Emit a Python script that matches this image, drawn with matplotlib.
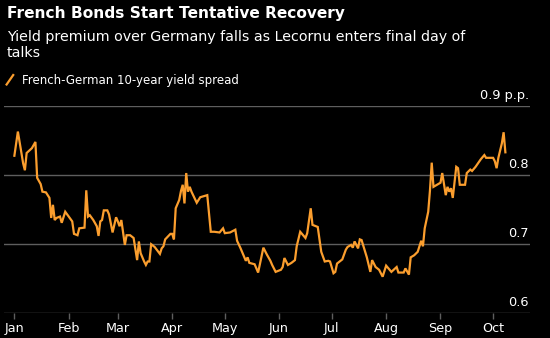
import matplotlib
matplotlib.use("Agg")
import matplotlib.pyplot as plt
import matplotlib.transforms as mtransforms
import pandas as pd

title = "French Bonds Start Tentative Recovery"
subtitle = "Yield premium over Germany falls as Lecornu enters final day of\ntalks"
series_name = "French-German 10-year yield spread"

dates = [
    "2025-01-01", "2025-01-03", "2025-01-06", "2025-01-07", "2025-01-08", "2025-01-11",
    "2025-01-13", "2025-01-14", "2025-01-16", "2025-01-17", "2025-01-19", "2025-01-21",
    "2025-01-22", "2025-01-23", "2025-01-24", "2025-01-25", "2025-01-27", "2025-01-28",
    "2025-01-30", "2025-02-01", "2025-02-03", "2025-02-04", "2025-02-06", "2025-02-07",
    "2025-02-10", "2025-02-11", "2025-02-12", "2025-02-13", "2025-02-15", "2025-02-17",
    "2025-02-18", "2025-02-19", "2025-02-20", "2025-02-21", "2025-02-23", "2025-02-24",
    "2025-02-26", "2025-02-28", "2025-03-01", "2025-03-02", "2025-03-03", "2025-03-05",
    "2025-03-06", "2025-03-08", "2025-03-10", "2025-03-12", "2025-03-13", "2025-03-14",
    "2025-03-16", "2025-03-17", "2025-03-18", "2025-03-19", "2025-03-20", "2025-03-22",
    "2025-03-25", "2025-03-26", "2025-03-27", "2025-03-28", "2025-03-31", "2025-04-01",
    "2025-04-02", "2025-04-03", "2025-04-05", "2025-04-06", "2025-04-07", "2025-04-08",
    "2025-04-09", "2025-04-10", "2025-04-11", "2025-04-12", "2025-04-15", "2025-04-17",
    "2025-04-21", "2025-04-23", "2025-04-25", "2025-04-28", "2025-04-30", "2025-05-01",
    "2025-05-04", "2025-05-07", "2025-05-08", "2025-05-10", "2025-05-13", "2025-05-14",
    "2025-05-15", "2025-05-18", "2025-05-20", "2025-05-23", "2025-05-25", "2025-05-27",
    "2025-05-28", "2025-05-30", "2025-06-01", "2025-06-02", "2025-06-03", "2025-06-04",
    "2025-06-06", "2025-06-08", "2025-06-10", "2025-06-11", "2025-06-13", "2025-06-16",
    "2025-06-17", "2025-06-19", "2025-06-20", "2025-06-23", "2025-06-25", "2025-06-27",
    "2025-06-29", "2025-06-30", "2025-07-02", "2025-07-03", "2025-07-04", "2025-07-07",
    "2025-07-09", "2025-07-10", "2025-07-12", "2025-07-13", "2025-07-14", "2025-07-16",
    "2025-07-17", "2025-07-18", "2025-07-20", "2025-07-21", "2025-07-23", "2025-07-24",
    "2025-07-26", "2025-07-28", "2025-07-30", "2025-08-01", "2025-08-04", "2025-08-07",
    "2025-08-08", "2025-08-11", "2025-08-12", "2025-08-14", "2025-08-15", "2025-08-17",
    "2025-08-19", "2025-08-21", "2025-08-22", "2025-08-23", "2025-08-25", "2025-08-26",
    "2025-08-27", "2025-08-28", "2025-08-30", "2025-09-01", "2025-09-02", "2025-09-04",
    "2025-09-05", "2025-09-06", "2025-09-07", "2025-09-08", "2025-09-10", "2025-09-11",
    "2025-09-12", "2025-09-15", "2025-09-16", "2025-09-18", "2025-09-19", "2025-09-21",
    "2025-09-24", "2025-09-26", "2025-09-27", "2025-09-29", "2025-09-30", "2025-10-01",
    "2025-10-02", "2025-10-03", "2025-10-04", "2025-10-06", "2025-10-07", "2025-10-08",
]

spread = [
    0.828, 0.863, 0.817, 0.807, 0.832, 0.839,
    0.848, 0.796, 0.787, 0.776, 0.775, 0.767,
    0.738, 0.757, 0.735, 0.738, 0.740, 0.731,
    0.747, 0.740, 0.733, 0.715, 0.713, 0.723,
    0.724, 0.778, 0.740, 0.742, 0.735, 0.726,
    0.712, 0.733, 0.735, 0.749, 0.749, 0.743,
    0.717, 0.739, 0.733, 0.726, 0.735, 0.699,
    0.713, 0.713, 0.709, 0.677, 0.704, 0.687,
    0.675, 0.670, 0.675, 0.675, 0.700, 0.696,
    0.686, 0.694, 0.697, 0.707, 0.715, 0.715,
    0.707, 0.752, 0.764, 0.777, 0.786, 0.759,
    0.803, 0.776, 0.783, 0.776, 0.760, 0.768,
    0.771, 0.718, 0.718, 0.717, 0.723, 0.716,
    0.717, 0.721, 0.705, 0.694, 0.676, 0.681,
    0.673, 0.671, 0.659, 0.695, 0.685, 0.676,
    0.670, 0.660, 0.662, 0.663, 0.667, 0.680,
    0.670, 0.673, 0.677, 0.697, 0.718, 0.709,
    0.716, 0.752, 0.728, 0.725, 0.689, 0.675,
    0.676, 0.675, 0.658, 0.660, 0.672, 0.678,
    0.692, 0.696, 0.699, 0.695, 0.704, 0.694,
    0.707, 0.706, 0.689, 0.681, 0.660, 0.677,
    0.667, 0.663, 0.653, 0.669, 0.660, 0.667,
    0.659, 0.659, 0.665, 0.656, 0.681, 0.684,
    0.689, 0.705, 0.697, 0.723, 0.747, 0.778,
    0.818, 0.783, 0.786, 0.789, 0.803, 0.771,
    0.783, 0.776, 0.781, 0.767, 0.812, 0.810,
    0.786, 0.786, 0.803, 0.808, 0.806, 0.812,
    0.823, 0.829, 0.825, 0.825, 0.825, 0.825,
    0.820, 0.810, 0.825, 0.846, 0.862, 0.833,
]

y_ticks = [0.6, 0.7, 0.8, 0.9]
y_tick_labels = ["0.6", "0.7", "0.8", "0.9 p.p."]
month_ticks = ["2025-01-01", "2025-02-01", "2025-03-01", "2025-04-01", "2025-05-01",
               "2025-06-01", "2025-07-01", "2025-08-01", "2025-09-01", "2025-10-01"]
month_labels = ["Jan", "Feb", "Mar", "Apr", "May", "Jun", "Jul", "Aug", "Sep", "Oct"]

BG = "black"
ORANGE = "#fb9e2e"
GRID = "#5e5e5e"
TXT = "white"

plt.rcParams["font.family"] = ["DejaVu Sans"]

fig = plt.figure(figsize=(5.5, 3.38), dpi=100, facecolor=BG)
ax = fig.add_axes([0.007, 0.073, 0.9565, 0.6134], facecolor=BG)

x = pd.to_datetime(dates)
ax.plot(x, spread, color=ORANGE, lw=1.6, solid_joinstyle="miter", zorder=3)

ax.set_xlim(pd.Timestamp("2024-12-26"), pd.Timestamp("2025-10-22"))
ax.set_ylim(0.6, 0.9)

for s in ax.spines.values():
    s.set_visible(False)

for v in y_ticks:
    ax.axhline(v, color=GRID, lw=1.0, zorder=1)

ax.set_yticks([])
trans = mtransforms.blended_transform_factory(ax.transAxes, ax.transData)
for v, lab in zip(y_ticks, y_tick_labels):
    ax.text(0.998, v + 0.006, lab, transform=trans, ha="right", va="bottom",
            color=TXT, fontsize=9.3, clip_on=False)

ax.set_xticks(pd.to_datetime(month_ticks))
ax.set_xticklabels(month_labels)
ax.tick_params(axis="x", colors=GRID, length=4.5, width=1.0, direction="out",
               labelcolor=TXT, labelsize=9.2, pad=2)

fig.text(0.012, 0.946, title, color=TXT, fontsize=11.1, fontweight="bold", ha="left", va="baseline")
fig.text(0.012, 0.832, subtitle, color=TXT, fontsize=10.3, ha="left", va="baseline", linespacing=1.2)

# legend
fig.lines.append(plt.Line2D([0.012, 0.024], [0.750, 0.778], transform=fig.transFigure,
                            color=ORANGE, lw=1.6))
fig.text(0.040, 0.752, series_name, color=TXT, fontsize=8.5, ha="left", va="baseline")

fig.savefig("out.png", dpi=100, facecolor=BG)
